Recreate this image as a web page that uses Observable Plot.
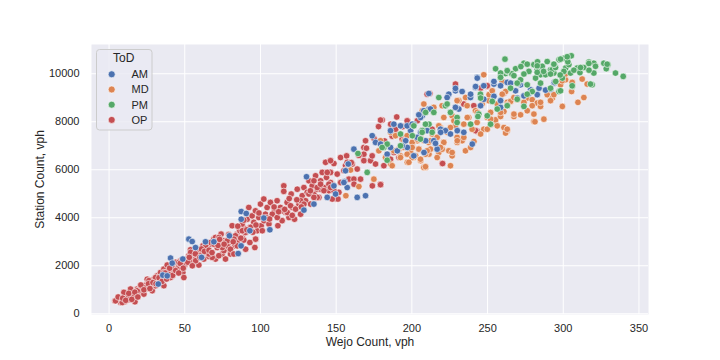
<!DOCTYPE html>
<html><head><meta charset="utf-8">
<script src="https://cdn.jsdelivr.net/npm/d3@7"></script>
<script src="https://cdn.jsdelivr.net/npm/@observablehq/plot@0.6"></script>
<style>
body{margin:0;background:#fff;}
#wrap{position:relative;width:720px;height:360px;font-family:"Liberation Sans",Arial,sans-serif;}
#legend{position:absolute;left:96px;top:49px;}
</style></head><body><div id="wrap"></div>
<script>
const todCategories = ["AM","MD","PM","OP"];
const todColors = ["#4C72B0","#DD8452","#55A868","#C44E52"];
const xTicks = [0,50,100,150,200,250,300,350];
const yTicks = [0,2000,4000,6000,8000,10000];
const xLabel = "Wejo Count, vph";
const yLabel = "Station Count, vph";
const legendTitle = "ToD";

const opPoints = [
[3.9,530],[6.1,580],[7.6,470],[8.7,640],[10.4,500],[11.3,720],[12.6,580],[14.2,820],[14.9,680],[16.4,920],[17.1,500],[17.5,750],[18.6,1030],[19.7,890],[20.8,1100],[21.9,960],[23,820],[24.1,1190],[25.2,1440],[25.9,1050],[27.4,1280],[28.5,960],[29.6,1440],[30.7,1170],[31.8,1580],[32.9,1330],[34,1720],[36.2,1170],[36.2,1860],[37.3,1580],[38.4,2030],[39.5,1790],[40.6,1510],[41.7,1930],[42.8,1720],[43.9,2140],[45,1860],[46.1,2000],[47.2,2210],[48.7,1720],[49.4,1510],[50.1,2030],[51,2280],[52.7,2420],[53.8,2670],[54.9,2140],[56,2490],[57.1,2280],[58.2,2690],[59.3,2030],[60.4,2560],[62,2830],[62.6,2280],[64.1,2560],[65.9,2390],[67,2900],[69.2,3110],[70.3,2280],[71.4,2760],[72.9,2970],[74.7,2490],[75.8,3040],[76.9,2690],[78.7,2900],[80.2,2490],[81.3,3140],[83.1,2830],[84.6,3320],[86.2,3460],[88,3180],[89,3560],
[64.8,2560],[67,2970],[68.1,2350],[70.3,3180],[71.4,2760],[72.5,2420],[74,3320],[74.7,2970],[75.8,2630],[76.9,2280],[78,2830],[79.1,3110],[80.2,2690],[81.3,3670],[82.4,2490],[83.5,3250],[84.6,2970],[86.4,3460],[87.9,3740],[89,3070],[90.1,3390],[91.2,3940],[92.3,4430],[93,2970],[93.4,3600],[94.5,4080],[95.6,3810],[96.3,2760],[96.7,4290],[97.8,3460],[98.9,4010],[100,4570],[100.5,3670],[102.2,4780],[103.3,4150],[104.4,4430],[105.5,3810],[106.6,4640],[107.7,4150],[109.3,4290],[111,4710],[111.5,3670],[113.2,4430],[114.3,3880],[115.4,5330],[115.4,5100],[116.5,4220],[117.6,4640],[118.8,4010],[120.3,4990],[120.9,4430],[122.5,3940],[124.3,5190],[125.4,4570],[126.5,4150],[127.6,4920],[128.7,5260],[129.8,4710],[130.9,5060],[132,5540],[133.1,4570],[134.2,5330],[135.3,4990],[136.4,5750],[137.5,5190],[138.6,4850],[139.7,5540],[140.8,5890],[141.9,5260],[143,6310],[143.6,5680],[145.2,5130],[146.3,5890],[147.4,5400],[148.5,6260],[149.6,4780],[150.7,5820],[151.8,5060],[152.9,5470],[156.2,6170],[157.3,6030],
[135.3,5540],[137.5,4850],[139.7,5190],[144.1,5890],[146.3,6380],[146.3,5470],[148.5,5130],[151.2,4780],[152.9,6510],[155.1,5960],[156.9,6580],[157.3,6310],[158.4,5610],[160.6,6240],[161.7,5610],[163.9,6030],[166.1,5610],[168.3,6930],[168.3,6650],[168.3,6380],[169.4,7210],[172.7,6380],[173.8,6580],[176,6240],[179.3,5400],[180.4,8070],[181.5,6170],[183.7,6650],[185.9,6440],[188.1,6720],[189.2,7630],[191.5,6510],[194.8,7070],[197,8040],[199.2,7630],[203.6,8040],[206.9,7630],
[211.9,9180],[220,6260],[249.8,9500],[240.9,8670],[193.6,7280],[199.1,7560],[249.8,9470],[260.8,9190],[245.4,9400],[243.2,7600],
[4.3,540],[8.7,470],[12,680],[16.4,750],[9.8,890],[14.2,1030],[18.6,960],[20.8,1170],[24.1,1100],[26.3,1380],[28.5,1240],[30.7,1510],[34,1450],[36.2,1720],[39.5,1650],[41.7,1930],[45,1860],[46.1,2140],[49.4,2000],[51.7,2280],[53.9,2560],[57.2,2210],[59.4,2690],[63.8,2830],[66,2490],[69.3,2900],[72.6,3180],[74.8,2760],[78.1,3040],[82.5,3110],[84.7,2830],[88,3460],[90.2,2690],[93.5,3600],[96.8,3110],[101.2,3460],[102.3,3880],[105.6,3740],[107.8,4150],[111.1,4010],[114.4,4290],[117.7,4220],[119.9,4500],[123.2,4360],[126.5,4710],[128.7,4570],[132,4990],[135.3,4850],[137.5,5260],[141.9,5130],[145.2,5400],[147.4,4780],
[133,5125],[139.7,5400],[146.3,5260],[153,5470],[161.8,5400],[173.9,5330],[179.4,5380],
[6,700],[9,650],[11,560],[13,850],[15,600],[17,900],[19,700],[21,1200],[23,1000],[26,1250],[27,1050],[29,1300],[31,1250],[33,1500],[35,1350],[37,1700],[38,1450],[40,1900],[42,1600],[44,1800],[46,1700],[47,2100],[49,1900],[52,2150],[53,2350],[55,2000],[57,2500],[60,2350],[61,2700],[63,2600],[66,2650],[68,2550],[70,3000],[72,2850],[73,3100],[76,2900],[79,3300],[82,3000],[85,3650],[87,3150],[89,3900],[91,3500],[95,3400],[97,3700],[99,4200],[104,4000],[106,3950],[109,4450],[112,4250],[116,4350],[119,4800],[121,4100],[124,4750],[127,4450],
[175,7300],[178,7800],[182,7200],[186,7900],[190,8200],[170,6900],[165,6600],[160,6300],[187,7400],[194,7800],
[179.3,8070],[210.1,9150],[228.8,9570],[249.8,9500],[234.3,8740],[189.2,7690],[196.9,8040],[213.4,7690],[242.1,7630],[220.3,6260],[179.3,5380]
];

const amPoints = [
[32.5,1240],[35.5,1610],[38.4,1580],[40.6,2320],[41.7,2110],[48.7,2280],[52.7,3110],[54.9,3010],[57.1,2760],[61.1,2350],[63.7,3000],[69.2,3000],[79.5,3250],[85.3,2510],[87.2,2830],
[87.3,4260],[87.3,3940],[90.6,4180],[93,3460],[102.2,3990],[106.2,3500],[128.7,4320],[130.4,5710],[135.3,4570],[144.1,4850],[148.5,5330],[149.6,4990],[155.5,5510],[157.3,5260],[158,6240],
[155.1,5470],[163.9,4850],[169.4,4920],[156.2,5960],[161.7,6860],[173.8,7420],[176,7140],[183.7,6650],[185.9,6930],[192.5,7830],[195.9,7210],[199.2,7630],[201.4,7900],[203.6,7350],[205.8,7560],[206.9,8250],[211.3,8530],[197,6930],[190.4,6790],[179.3,7070],[209.1,7210],
[211.2,9180],[214.5,7210],[218.9,7690],[222.2,7630],[224.4,9150],[228.8,9290],[231,8530],[234.3,7560],[238.7,9010],[242,9430],[243.1,9850],[247.5,8940],[254.2,9570],[258.6,8600],[263,9640],[207.9,8460],[205.7,8180],[201.3,7830],[196.9,7830],[216.7,6860],[225.5,7490],
[243.2,9820],[242.1,9470],[254.2,9680],[265.2,9610],[271.8,9540],[278.4,9330],[284,9400],[293.9,9610],[269.6,8990],[254.2,9060],[282.8,9130],
[294.2,9640],[291.6,9360],
[228.8,9390],[233.2,9260],[247.5,9500],[258.6,9500],[270.7,9600],[277.3,9180],[288.3,9320],[223.3,9010],[238.8,9150],[212.3,8530],[204.6,8290],[200.2,7900],[188.1,7900],[185.9,7630],[210.1,7630],[219,7560],[230,7630],[239.9,7070],[215.6,7100],[208,6720],[201.3,6580],[193.6,7000],[228.8,8600],[245.4,8670],[258.6,8880],[268.5,9290],[274,9080]
];

const mdPoints = [
[156.4,4920],[158.8,6000],[165,5300],
[159.5,5990],[174.9,5610],[178.2,6790],[185.9,7560],[185.9,6240],[189.2,7420],[191.5,6860],[194.8,7210],[197,6310],[200.3,7070],[202.5,6580],[204.7,6860],[205.8,6380],[208,7210],[209.1,6100],[211.3,6650],[206.9,8460],[203.6,7210],[199.2,6720],[192.5,6580],
[194.7,6930],[196.9,6650],[200.2,7140],[201.3,6510],[204.6,6860],[205.7,7350],[207.9,6100],[209,6650],[211.2,7140],[212.3,6860],[213.4,7490],[216.7,7350],[217.8,6720],[218.9,7760],[221.1,7140],[223.3,7560],[224.4,6790],[226.6,6580],[226.6,8250],[228.8,7830],[229.9,7350],[231,8880],[233.2,7210],[234.3,7900],[236.5,8670],[237.6,8180],[239.8,7690],[242,8460],[243.1,7970],[246.4,8740],[247.5,9960],[249.8,8180],[250.9,8880],[252,8390],[255.3,7900],[256.4,8740],[258.6,8320],[260.8,7760],[263,7630],[263,8810],[247.5,7690],[235.4,6790],[225.5,6170],[229.9,7140],[220,6860],[200.2,6510],
[259.7,9680],[261.9,9260],[265.2,8850],[269.6,8920],[276.2,8990],[279.5,8920],[282.8,8780],[285,8640],[289.4,9130],[292.8,8990],[299.4,8640],[280.6,8320],[271.8,8290],[267.4,8220],[260.8,8430],[255.3,8080],[252,7880],[258.6,8220],[261.9,7530],[280.6,8010],[263,8710],[251,9130],[241,7180],
[312.5,9780],[315.8,9570],[301.5,9750],[305.5,9260],[313.6,9010],[309.7,8810],[293.8,9130],[298.2,9540],
[281.3,8000],[287.2,8110],[263,7690],
[207.9,8740],[214.5,8600],[220,8670],[229.9,8880],[235.5,9010],[245.4,9080],[253.1,9290],[259.7,9150],[267.4,9010],[274,8810],[279.5,8670],[285,8810],[291.6,8880],[299.3,9710],[301.5,9990],[305.9,9640],[221.1,8180],[227.8,8040],[236.6,8180],[243.2,8390],[252,8110],[258.6,8390],[267.4,8320],[276.2,8460],[217.8,7830],[225.5,7760],[234.3,7350],[245.4,7490],[249.8,7690],[256.4,7830],[196.9,7420],[203.5,7280],[212.3,7210],[221.1,7140],[230,7210],[200.2,6930],[210.1,6790],[218.9,6930],[226.6,6720],[238.8,6930],[188.1,6790],[192.5,6510],[205.7,6440],[216.7,6510],[187,6170],[198,6310],[209,6130],[179.3,7210],[182.6,6510]
];

const pmPoints = [
[164.4,6680],[170.5,5890],[181.5,6930],[183.7,6400],[192.5,7000],[200.3,7420],[206.9,7630],[211.3,7900],[209.1,8390],
[217.8,9010],[222.2,8670],[214.5,8390],[209,7900],[213.4,7560],[229.9,8180],[245.3,9150],[244.2,8320],[252,7900],[258.6,9850],[261.9,10010],[205.7,7280],
[261.5,10610],[255.3,10210],[258.6,10030],[263,10100],[268.5,10210],[271.8,9750],[274,10440],[277.3,10100],[280.6,10380],[282.8,10170],[285,9960],[286.1,10310],[289.4,10510],[291.6,10170],[293.8,10030],[297.2,10580],[300.5,10650],[301.6,10240],[299.4,9820],[288.3,9960],[281.7,9820],[276.2,9540],[297.2,9260],[291.6,9400],[269.6,9610],[265.2,9400],[243.6,8220],[245.4,8990],[253.1,8850],[274,8640],[279.5,9260],[285,9610],[295,9680],
[305.3,10750],[303.7,10380],[300.4,10100],[304.8,10030],[309.2,10240],[313.6,10260],[316.9,10490],[320.2,10440],[321.3,10310],[326.8,10440],[329.5,10380],[328.4,10210],[334.5,10030],[339.6,9890],[320.2,10030],[305.9,9470],[319.1,9540],[292.7,10170],[294.9,10260],
[266,10000],[272,10300],[283,10500],[287,10100],[294,10400],[298,9950],[303,10500],[307,10150],[311,10050],[317,10150],
[223.3,8740],[225.5,8390],[201.3,7830],[206.8,7560],[192.5,7490],[183.7,7070],[180.4,6930],[229.9,7970],[238.8,7900],[249.8,8250],[256.4,8530],[263,8670],[269.6,8940],[276.2,9150],[263,10130],[276.2,10400],[282.8,10330],[293.8,10400],[298.2,10610],[302.6,10710],[311.4,10260],[316.9,10430],[329,10400],[305.9,9500],[318,9570],[298.2,9290],[291.6,9990],[282.8,10060],[274,9990],[267.4,9920],[258.6,9850]
];

const seriesByTod = {AM: amPoints, MD: mdPoints, PM: pmPoints, OP: opPoints};
const drawOrder = ["OP","MD","AM","PM"];
const rows = drawOrder.flatMap(t => seriesByTod[t].map(([x, y]) => ({tod: t, wejo: x, station: y})));

const font = '"Liberation Sans", Arial, sans-serif';
const ink = "#262626";

const chart = Plot.plot({
  width: 720, height: 360,
  marginLeft: 91, marginRight: 72, marginTop: 44, marginBottom: 46,
  style: {fontFamily: font, fontSize: "11px", color: ink, background: "white", overflow: "visible"},
  x: {domain: [-11.6, 356.3]},
  y: {domain: [-30, 11220]},
  color: {domain: todCategories, range: todColors},
  marks: [
    Plot.frame({fill: "#EAEAF2", stroke: null}),
    Plot.gridX(xTicks, {stroke: "white", strokeOpacity: 1, strokeWidth: 1}),
    Plot.gridY(yTicks, {stroke: "white", strokeOpacity: 1, strokeWidth: 1}),
    Plot.axisX(xTicks, {tickSize: 0, tickPadding: 10, tickFormat: d => String(d), label: null, fontSize: 11, fill: ink}),
    Plot.axisY(yTicks, {tickSize: 0, tickPadding: 12, tickFormat: d => String(d), label: null, fontSize: 11, fill: ink}),
    Plot.axisX([], {label: xLabel, labelArrow: "none", labelAnchor: "center", labelOffset: 31, fontSize: 12, fill: ink, tickSize: 0}),
    Plot.axisY([], {label: yLabel, labelArrow: "none", labelAnchor: "center", labelOffset: 56, fontSize: 12, fill: ink, tickSize: 0}),
    Plot.dot(rows, {x: "wejo", y: "station", fill: "tod", r: 3.3, stroke: "white", strokeWidth: 0.6})
  ]
});

const wrap = document.getElementById("wrap");
wrap.appendChild(chart);

// Legend overlay (seaborn style)
const lg = d3.select(wrap).append("svg").attr("id", "legend")
  .attr("width", 58).attr("height", 83)
  .style("font-family", font).style("fill", ink);
lg.append("rect").attr("x", 0.5).attr("y", 0.5).attr("width", 55.5).attr("height", 80.5)
  .attr("rx", 3).attr("fill", "#EAEAF2").attr("fill-opacity", 0.8).attr("stroke", "#CCCCCC");
lg.append("text").attr("x", 27.7).attr("y", 12.5).attr("text-anchor", "middle")
  .style("font-size", "12px").attr("fill", ink).text(legendTitle);
const items = lg.selectAll("g.item").data(todCategories).join("g").attr("class", "item")
  .attr("transform", (d, i) => `translate(0,${25.3 + i * 15.2})`);
items.append("circle").attr("cx", 15.7).attr("cy", 0).attr("r", 3.5)
  .attr("fill", (d, i) => todColors[i]).attr("stroke", "white").attr("stroke-width", 0.6);
items.append("text").attr("x", 35.5).attr("dy", "0.36em").style("font-size", "11px").attr("fill", ink).text(d => d);
</script></body></html>
